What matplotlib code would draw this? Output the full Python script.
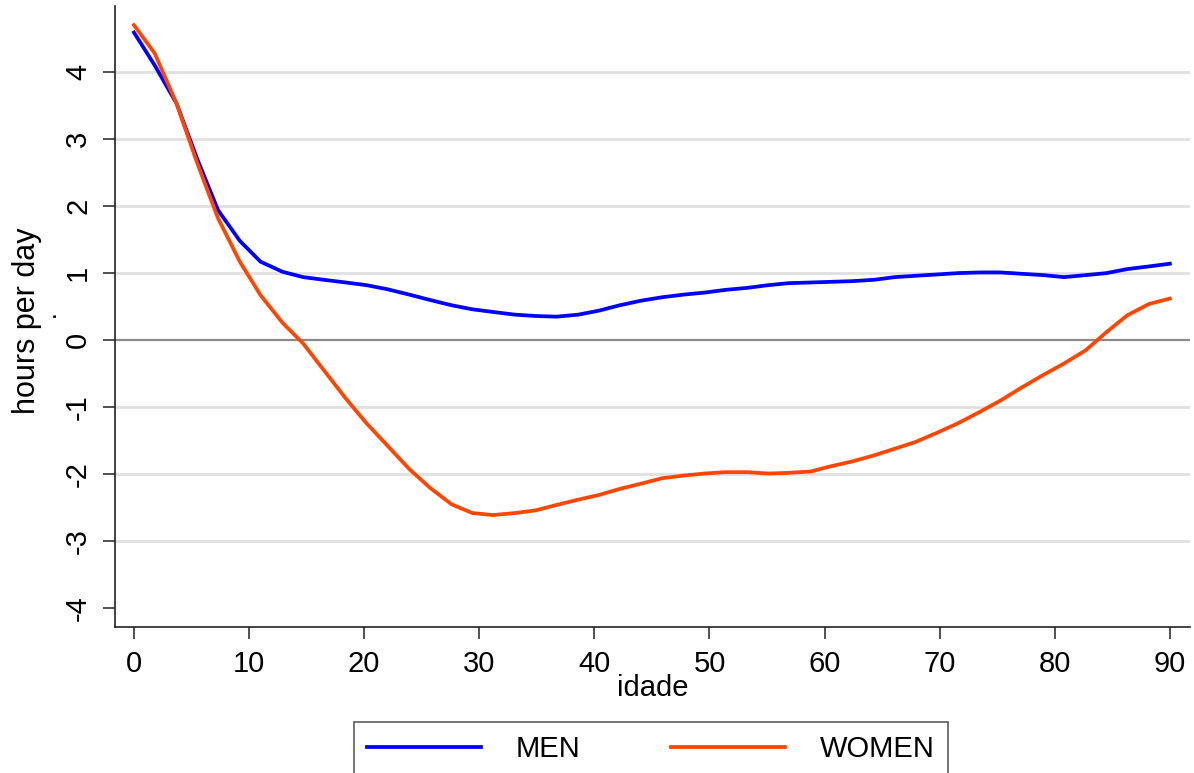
import matplotlib.pyplot as plt

plt.rcParams['font.family'] = ['Liberation Sans', 'DejaVu Sans']
plt.rcParams['axes.unicode_minus'] = False

# idade (ages where the smoothed curves have a vertex)
ages = [0.0, 1.8, 3.7, 5.5, 7.3, 9.2, 11.0, 12.9, 14.7, 16.5,
        18.4, 20.2, 22.0, 23.9, 25.7, 27.6, 29.4, 31.2, 33.1, 34.9,
        36.7, 38.6, 40.4, 42.2, 44.1, 45.9, 47.8, 49.6, 51.4, 53.3,
        55.1, 56.9, 58.8, 60.6, 62.4, 64.3, 66.1, 67.9, 69.8, 71.6,
        73.5, 75.3, 77.1, 79.0, 80.8, 82.7, 84.5, 86.3, 88.2, 90.0]

men = [4.59, 4.10, 3.53, 2.70, 1.94, 1.48, 1.17, 1.02, 0.94, 0.90,
       0.86, 0.82, 0.76, 0.68, 0.60, 0.52, 0.46, 0.42, 0.38, 0.36,
       0.35, 0.38, 0.44, 0.52, 0.59, 0.64, 0.68, 0.71, 0.75, 0.78,
       0.82, 0.85, 0.86, 0.87, 0.88, 0.90, 0.94, 0.96, 0.98, 1.00,
       1.01, 1.01, 0.99, 0.97, 0.94, 0.97, 1.00, 1.06, 1.10, 1.14]

women = [4.70, 4.28, 3.53, 2.64, 1.82, 1.17, 0.67, 0.26, -0.05, -0.45,
         -0.87, -1.24, -1.57, -1.92, -2.20, -2.45, -2.58, -2.61, -2.58, -2.54,
         -2.46, -2.38, -2.31, -2.22, -2.14, -2.06, -2.02, -1.99, -1.97, -1.97,
         -1.99, -1.98, -1.96, -1.88, -1.81, -1.72, -1.62, -1.52, -1.38, -1.24,
         -1.07, -0.90, -0.71, -0.52, -0.35, -0.15, 0.12, 0.37, 0.54, 0.62]

x_ticks = [0, 10, 20, 30, 40, 50, 60, 70, 80, 90]
y_ticks = [-4, -3, -2, -1, 0, 1, 2, 3, 4]
grid_levels = [-3, -2, -1, 1, 2, 3, 4]

W, H = 1194, 773
fig = plt.figure(figsize=(W / 100, H / 100), dpi=100)
ax = fig.add_axes([115 / W, 1 - 627 / H, (1190 - 115) / W, (627 - 6) / H])

# grid + zero line
for g in grid_levels:
    ax.axhline(g, color='#e0e0e0', lw=2, zorder=1)
ax.axhline(0, color='#8a8a8a', lw=1.6, zorder=1)

l1, = ax.plot(ages, men, color='#0000ff', lw=2.7, label='MEN', zorder=3)
l2, = ax.plot(ages, women, color='#ff4500', lw=2.7, label='WOMEN', zorder=3)

ax.set_xlim(-1.65, 91.75)
ax.set_ylim(-4.28, 4.985)
ax.set_xticks(x_ticks)
ax.set_yticks(y_ticks)

for s in ['top', 'right']:
    ax.spines[s].set_visible(False)
for s in ['left', 'bottom']:
    ax.spines[s].set_color('#222222')
    ax.spines[s].set_linewidth(1.2)

ax.tick_params(axis='both', direction='out', length=8.5, width=1.1,
               color='#222222', labelsize=21)
ax.tick_params(axis='x', pad=8)
ax.tick_params(axis='y', pad=8)
for t in ax.get_yticklabels():
    t.set_rotation(90)
    t.set_va('center')

ax.set_xlabel('idade', fontsize=21, labelpad=-3)

# y title and the stray "." next to it
fig.text(42 / W, 1 - 321 / H, 'hours per day', rotation=90,
         ha='right', va='center', fontsize=22)
fig.text(59 / W, 1 - 315 / H, '.', rotation=90,
         ha='right', va='center', fontsize=12, fontweight='bold')

leg = fig.legend(handles=[l1, l2], loc='upper center', ncol=2,
                 bbox_to_anchor=(651 / W, 1 - 722 / H), fontsize=21,
                 frameon=True, fancybox=False, handlelength=3.9,
                 handletextpad=1.2, columnspacing=3.1, borderpad=0.45,
                 borderaxespad=0)
leg.get_frame().set_edgecolor('#333333')
leg.get_frame().set_linewidth(1.2)

fig.savefig('out.png', dpi=100)
